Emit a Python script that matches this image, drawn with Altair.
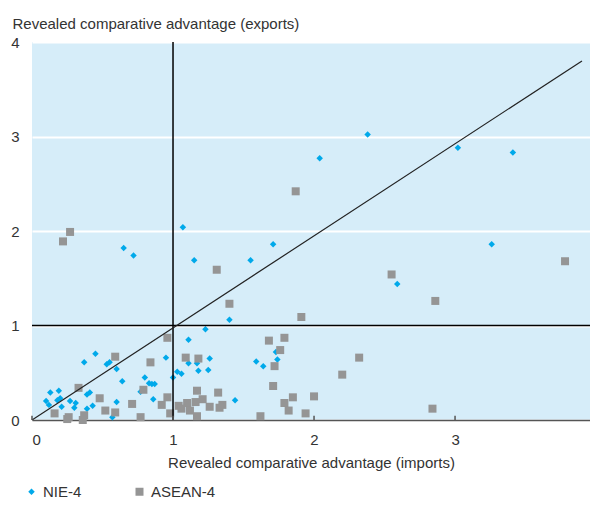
import altair as alt
import pandas as pd

groups = ["NIE-4", "ASEAN-4"]
tick_values = [0, 1, 2, 3, 4]

nie_x = [2.38, 2.04, 3.02, 3.41, 3.26, 2.59,
         0.65, 0.72, 1.07, 1.15, 1.55, 1.71,
         1.40, 1.73, 1.59, 1.64, 1.74, 1.44,
         1.23, 1.11, 1.26, 0.95, 1.11, 1.17, 1.18, 1.25, 1.03, 1.06, 1.00,
         0.64, 0.80, 0.83, 0.85, 0.87, 0.77, 0.86, 0.60,
         0.45, 0.37, 0.53, 0.55, 0.60,
         0.13, 0.19, 0.10, 0.12, 0.18, 0.20, 0.21, 0.27, 0.31, 0.30, 0.39, 0.41, 0.39, 0.43, 0.57]
nie_y = [3.02, 2.77, 2.88, 2.83, 1.86, 1.44,
         1.82, 1.74, 2.04, 1.69, 1.69, 1.86,
         1.06, 0.72, 0.62, 0.57, 0.64, 0.21,
         0.96, 0.85, 0.65, 0.66, 0.60, 0.60, 0.52, 0.53, 0.51, 0.49, 0.45,
         0.41, 0.45, 0.39, 0.38, 0.38, 0.30, 0.22, 0.19,
         0.70, 0.61, 0.59, 0.61, 0.54,
         0.29, 0.31, 0.20, 0.16, 0.21, 0.23, 0.14, 0.20, 0.18, 0.13, 0.27, 0.29, 0.12, 0.15, 0.03]

asean_x = [1.87, 3.78, 2.55, 2.86, 0.27, 0.22, 1.31, 1.40,
           1.91, 1.68, 1.79, 1.76, 1.72, 1.71,
           2.32, 2.20, 2.84, 2.00, 1.94,
           1.32, 1.35, 1.33, 1.79, 1.85, 1.82, 1.62,
           0.96, 1.09, 1.18, 0.84, 0.79, 1.17, 0.96, 0.71, 0.92, 1.04, 1.10, 1.16, 1.21, 1.26, 1.06, 1.12, 0.98, 1.17, 0.77,
           0.59, 0.33, 0.48, 0.16, 0.25, 0.26, 0.37, 0.36, 0.52, 0.59]
asean_y = [2.42, 1.68, 1.54, 1.26, 1.99, 1.89, 1.59, 1.23,
           1.09, 0.84, 0.87, 0.74, 0.57, 0.36,
           0.66, 0.48, 0.12, 0.25, 0.07,
           0.29, 0.16, 0.13, 0.18, 0.24, 0.10, 0.04,
           0.87, 0.66, 0.65, 0.61, 0.32, 0.31, 0.24, 0.17, 0.16, 0.15, 0.18, 0.19, 0.22, 0.14, 0.12, 0.10, 0.07, 0.04, 0.03,
           0.67, 0.34, 0.23, 0.07, 0.01, 0.03, 0.05, 0.00, 0.10, 0.08]

diag_x = [0, 3.9]
diag_y = [0, 3.8]

df = pd.DataFrame({
    "x": nie_x + asean_x,
    "y": nie_y + asean_y,
    "group": ["NIE-4"] * len(nie_x) + ["ASEAN-4"] * len(asean_x),
})
diag_df = pd.DataFrame({"x": diag_x, "y": diag_y})
ticks_df = pd.DataFrame({"x": tick_values, "y": [0] * 5, "y2": [0.045] * 5})

# the visible plot area is cut at the window edge just before x = 4
xscale = alt.Scale(domain=[0, 3.957], nice=False, zero=False)
yscale = alt.Scale(domain=[0, 4], nice=False, zero=False)

XTITLE = "Revealed comparative advantage (imports)"
YTITLE = "Revealed comparative advantage (exports)"

xaxis = alt.Axis(values=tick_values, title=XTITLE,
                 grid=False, ticks=False, domain=True, domainColor="#555555", domainWidth=1.5,
                 labelPadding=12, titlePadding=8)
yaxis = alt.Axis(values=tick_values, title=YTITLE,
                 titleAngle=0, titleAlign="left", titleBaseline="alphabetic",
                 titleX=-20, titleY=-14,
                 grid=True, gridColor="white", gridWidth=2,
                 ticks=False, domain=False, labelPadding=13)

FONT = "Liberation Sans"

leg = alt.Legend(title=None, orient="none", legendX=-8, legendY=442,
                 direction="horizontal", columnPadding=50,
                 symbolSize=45, labelOffset=4)

points = alt.Chart(df).mark_point(filled=True, opacity=1, strokeWidth=0).encode(
    x=alt.X("x:Q", scale=xscale, axis=xaxis, title=XTITLE),
    y=alt.Y("y:Q", scale=yscale, axis=yaxis, title=YTITLE),
    shape=alt.Shape("group:N", scale=alt.Scale(domain=groups, range=["diamond", "square"]), legend=leg),
    color=alt.Color("group:N", scale=alt.Scale(domain=groups, range=["#00a9ea", "#959595"]), legend=leg),
    size=alt.Size("group:N", scale=alt.Scale(domain=groups, range=[42, 64]), legend=None),
)

vline = alt.Chart(pd.DataFrame({"x": [1]})).mark_rule(color="black", strokeWidth=1.5).encode(
    x=alt.X("x:Q", scale=xscale, axis=xaxis, title=XTITLE))
hline = alt.Chart(pd.DataFrame({"y": [1]})).mark_rule(color="black", strokeWidth=1.5).encode(
    y=alt.Y("y:Q", scale=yscale, axis=yaxis, title=YTITLE))
diag = alt.Chart(diag_df).mark_line(color="#222222", strokeWidth=1.2).encode(
    x=alt.X("x:Q", scale=xscale, axis=xaxis, title=XTITLE),
    y=alt.Y("y:Q", scale=yscale, axis=yaxis, title=YTITLE))
ticks = alt.Chart(ticks_df).mark_rule(color="#555555", strokeWidth=1.5).encode(
    x=alt.X("x:Q", scale=xscale, axis=xaxis, title=XTITLE),
    y=alt.Y("y:Q", scale=yscale, axis=yaxis, title=YTITLE),
    y2="y2:Q")

chart = alt.layer(points, vline, hline, diag, ticks).properties(
    width=558, height=378,
    autosize=alt.AutoSizeParams(type="none"),
    padding={"left": 24, "top": 34, "right": 0, "bottom": 86},
).configure_view(
    fill="#d6edf9", strokeWidth=0
).configure_axis(
    labelFont=FONT, labelFontSize=15, labelColor="#333333",
    titleFont=FONT, titleFontSize=15, titleFontWeight="normal", titleColor="#333333",
).configure_legend(
    labelFont=FONT, labelFontSize=15, labelColor="#333333",
)

chart.save("out.html", embed_options={"renderer": "svg", "actions": False})
